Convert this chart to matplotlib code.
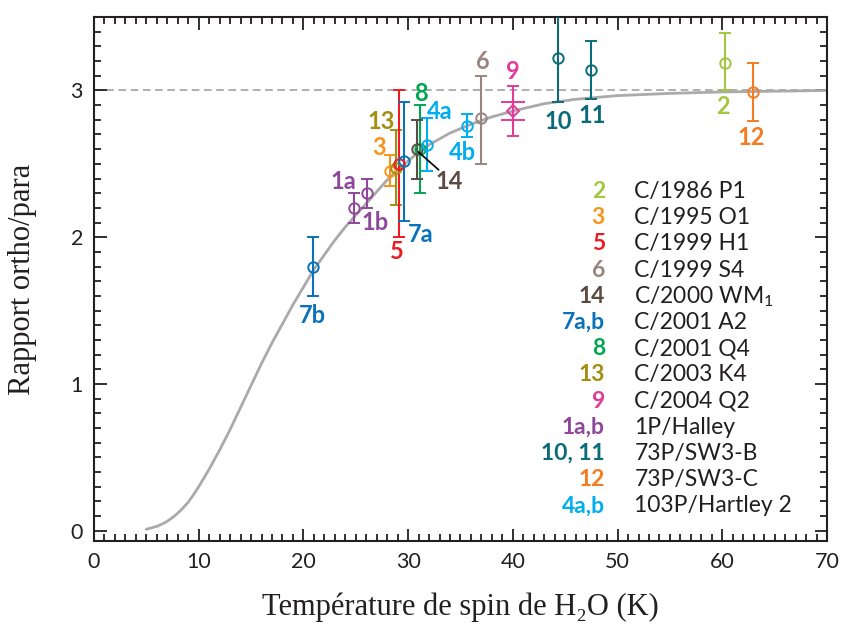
import numpy as np
import matplotlib
matplotlib.use("Agg")
import matplotlib.pyplot as plt
from matplotlib.ticker import MultipleLocator

# Model curve (ortho/para ratio vs spin temperature)
curve_t = [5, 5.5, 6, 6.5, 7, 7.5, 8, 8.5, 9, 9.5, 10, 10.5, 11, 12, 13, 14,
           15, 16, 17, 18, 19, 20, 21, 22, 23, 24, 25, 26, 27, 28, 29, 30, 31,
           32, 34, 36, 38, 40, 43, 46, 50, 55, 60, 65, 70]
curve_opr = [0.01, 0.02, 0.03, 0.045, 0.065, 0.09, 0.12, 0.155, 0.195, 0.245,
             0.30, 0.36, 0.42, 0.55, 0.69, 0.84, 0.99, 1.14, 1.28, 1.41, 1.54,
             1.66, 1.78, 1.88, 1.98, 2.07, 2.15, 2.23, 2.31, 2.39, 2.46, 2.52,
             2.58, 2.63, 2.71, 2.77, 2.82, 2.86, 2.91, 2.94, 2.965, 2.98, 2.99,
             2.995, 3.0]

# Comet measurements: id, T, OPR, lower, upper
pt_id = ["7b", "1b", "1a", "3", "13", "5", "7a", "8", "14", "4a", "4b", "6",
         "10", "11", "2", "12"]
pt_t = [20.9, 24.8, 26.1, 28.3, 28.8, 29.1, 29.6, 31.1, 30.8, 31.8, 35.6, 37.0,
        44.3, 47.5, 60.3, 62.9]
pt_opr = [1.80, 2.20, 2.30, 2.45, 2.47, 2.50, 2.52, 2.60, 2.60, 2.63, 2.76, 2.81,
          3.22, 3.14, 3.19, 2.99]
pt_lo = [1.60, 2.10, 2.20, 2.35, 2.22, 2.00, 2.11, 2.30, 2.40, 2.45, 2.68, 2.50,
         2.92, 2.94, 3.00, 2.79]
pt_hi = [2.00, 2.30, 2.40, 2.56, 2.73, 3.00, 2.92, 2.90, 2.80, 2.81, 2.84, 3.10,
         3.60, 3.34, 3.39, 3.19]

# comet 9 (C/2004 Q2): diamond with two error ranges
q2_t, q2_opr = 40.0, 2.86
q2_outer = (2.69, 3.03)
q2_inner = (2.80, 2.92)

colors = {
    "2": "#a3c63f", "3": "#f7941d", "5": "#ed1c24", "6": "#9a8480",
    "14": "#5b4b43", "7": "#0a72ba", "8": "#00a651", "13": "#a28e12",
    "9": "#e03c98", "1": "#8f479c", "10": "#0b6b7b", "12": "#f47c22",
    "4": "#00aeef",
}

def col(lbl):
    key = lbl.rstrip("ab")
    if key == "11":
        key = "10"
    return colors[key]

# label text positions (data coords)
lab_id = ["7b", "1a", "1b", "3", "13", "5", "7a", "8", "4a", "4b", "14", "6",
          "9", "10", "11", "2", "12"]
lab_x = [20.9, 23.8, 26.8, 27.2, 27.4, 28.9, 31.2, 31.2, 33.0, 35.2, 33.9, 37.1,
         40.0, 44.3, 47.6, 60.1, 62.8]
lab_y = [1.47, 2.38, 2.10, 2.61, 2.79, 1.90, 2.02, 2.98, 2.86, 2.58, 2.38, 3.20,
         3.13, 2.79, 2.83, 2.89, 2.68]

# legend
leg_num = ["2", "3", "5", "6", "14", "7a,b", "8", "13", "9", "1a,b", "10, 11",
           "12", "4a,b"]
leg_name = ["C/1986 P1", "C/1995 O1", "C/1999 H1", "C/1999 S4", "C/2000 WM$_1$",
            "C/2001 A2", "C/2001 Q4", "C/2003 K4", "C/2004 Q2", "1P/Halley",
            "73P/SW3-B", "73P/SW3-C", "103P/Hartley 2"]
leg_col = ["2", "3", "5", "6", "14", "7", "8", "13", "9", "1", "10", "12", "4"]

sans = ["Lato", "DejaVu Sans"]
serif = ["Liberation Serif", "DejaVu Serif"]
plt.rcParams["font.family"] = sans
plt.rcParams["mathtext.fontset"] = "custom"
plt.rcParams["mathtext.rm"] = "Lato"

fig = plt.figure(figsize=(8.43, 6.33), dpi=100)
ax = fig.add_axes([0.1115, 0.1453, 0.8695, 0.8277])

ax.axhline(3.0, color="#9a9a9a", lw=1.1, ls=(0, (5, 3)), zorder=1)
ax.plot(curve_t, curve_opr, color="#aaaaaa", lw=2.0, zorder=2,
        solid_capstyle="round", solid_joinstyle="round")

for lbl, t, r, lo, hi in zip(pt_id, pt_t, pt_opr, pt_lo, pt_hi):
    c = col(lbl)
    ax.errorbar(t, r, yerr=[[r - lo], [hi - r]], fmt="o", ms=7.5, mfc="none",
                mec=c, mew=1.4, ecolor=c, elinewidth=1.5, capsize=4,
                capthick=1.4, zorder=3)

c9 = colors["9"]
ax.errorbar(q2_t, q2_opr, yerr=[[q2_opr - q2_outer[0]], [q2_outer[1] - q2_opr]],
            fmt="D", ms=6, mfc="none", mec=c9, mew=1.4, ecolor=c9,
            elinewidth=1.5, capsize=4, capthick=1.4, zorder=3)
ax.errorbar(q2_t, q2_opr, yerr=[[q2_opr - q2_inner[0]], [q2_inner[1] - q2_opr]],
            fmt="none", ecolor=c9, elinewidth=1.5, capsize=8.5, capthick=1.4,
            zorder=3)

# leader line for 14
ax.plot([31.0, 32.9], [2.58, 2.46], color="black", lw=1.2, zorder=4)

for lbl, x, y in zip(lab_id, lab_x, lab_y):
    ax.text(x, y, lbl, color=col(lbl), fontsize=17, fontweight="bold",
            ha="center", va="center", family=sans, zorder=5)

for i, (n, name, k) in enumerate(zip(leg_num, leg_name, leg_col)):
    y = 2.268 - i * 0.1786
    ax.text(48.8, y, n, color=colors[k], fontsize=16.5, fontweight="bold",
            ha="right", va="baseline", family=sans)
    ax.text(51.6, y, name, color="#231f20", fontsize=16.5, ha="left",
            va="baseline", family=sans)

ax.set_xlim(0, 70)
ax.set_ylim(-0.07, 3.5)
ax.xaxis.set_major_locator(MultipleLocator(10))
ax.xaxis.set_minor_locator(MultipleLocator(1))
ax.yaxis.set_major_locator(MultipleLocator(1))
ax.yaxis.set_minor_locator(MultipleLocator(0.1))
ax.tick_params(which="both", direction="in", top=True, right=True,
               colors="#231f20", width=1.3)
ax.tick_params(which="major", length=9, labelsize=15.5, pad=8)
ax.tick_params(which="minor", length=5)
for s in ax.spines.values():
    s.set_linewidth(1.5)
    s.set_color("#231f20")

ax.set_xlabel("Température de spin de H₂O (K)", family=serif, fontsize=22,
              color="#231f20", labelpad=15)
ax.set_ylabel("Rapport ortho/para", family=serif, fontsize=22,
              color="#231f20", labelpad=24)

fig.savefig("out.png", dpi=100)
